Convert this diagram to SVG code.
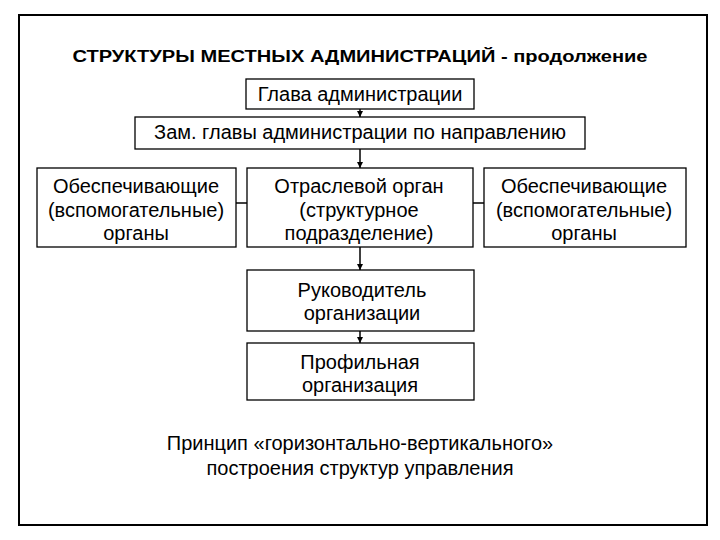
<svg xmlns="http://www.w3.org/2000/svg" width="720" height="540" viewBox="0 0 720 540">
<style>
.box{fill:#fff;stroke:#000;stroke-width:1.3}
.t{font-family:"Liberation Sans",Arial,sans-serif;font-size:20px;fill:#000;text-anchor:middle}
.title{font-family:"Liberation Sans",Arial,sans-serif;font-size:16px;font-weight:bold;fill:#000;text-anchor:middle}
.ln{stroke:#000;stroke-width:1.5;fill:none}
</style>
<defs>
<marker id="ah" viewBox="0 0 8 8" refX="8" refY="4" markerWidth="6" markerHeight="6" markerUnits="userSpaceOnUse" orient="auto">
<path d="M0,0 L8,4 L0,8 z" fill="#000"/>
</marker>
</defs>
<rect width="720" height="540" fill="#fff"/>
<rect x="19" y="15" width="688" height="510" fill="none" stroke="#000" stroke-width="2"/>
<text class="title" x="360" y="62" textLength="575" lengthAdjust="spacingAndGlyphs">СТРУКТУРЫ МЕСТНЫХ АДМИНИСТРАЦИЙ - продолжение</text>
<g id="connectors">
<line class="ln" x1="360" y1="109" x2="360" y2="117" marker-end="url(#ah)"/>
<line class="ln" x1="360" y1="149" x2="360" y2="168" marker-end="url(#ah)"/>
<line class="ln" x1="360" y1="247" x2="360" y2="270" marker-end="url(#ah)"/>
<line class="ln" x1="360" y1="331" x2="360" y2="343" marker-end="url(#ah)"/>
<line class="ln" x1="236" y1="203" x2="247" y2="203"/>
<line class="ln" x1="473" y1="203" x2="484" y2="203"/>
</g>
<g id="glava">
<rect class="box" x="246" y="79" width="228" height="30"/>
<text class="t" x="360" y="101">Глава администрации</text>
</g>
<g id="zam">
<rect class="box" x="135" y="117" width="450" height="32"/>
<text class="t" x="360" y="139">Зам. главы администрации по направлению</text>
</g>
<g id="left">
<rect class="box" x="37" y="168" width="199" height="79"/>
<text class="t" x="136" y="193">Обеспечивающие</text>
<text class="t" x="136" y="217">(вспомогательные)</text>
<text class="t" x="136" y="240">органы</text>
</g>
<g id="middle">
<rect class="box" x="247" y="168" width="226" height="79"/>
<text class="t" x="359" y="193">Отраслевой орган</text>
<text class="t" x="359" y="217">(структурное</text>
<text class="t" x="359" y="240">подразделение)</text>
</g>
<g id="right">
<rect class="box" x="484" y="168" width="202" height="79"/>
<text class="t" x="584" y="193">Обеспечивающие</text>
<text class="t" x="584" y="217">(вспомогательные)</text>
<text class="t" x="584" y="240">органы</text>
</g>
<g id="rukovoditel">
<rect class="box" x="247" y="270" width="227" height="61"/>
<text class="t" x="362" y="297">Руководитель</text>
<text class="t" x="362" y="320">организации</text>
</g>
<g id="profilnaya">
<rect class="box" x="247" y="343" width="227" height="57"/>
<text class="t" x="360" y="369">Профильная</text>
<text class="t" x="360" y="392">организация</text>
</g>
<g id="caption">
<text class="t" x="360" y="450">Принцип «горизонтально-вертикального»</text>
<text class="t" x="360" y="475">построения структур управления</text>
</g>
</svg>
